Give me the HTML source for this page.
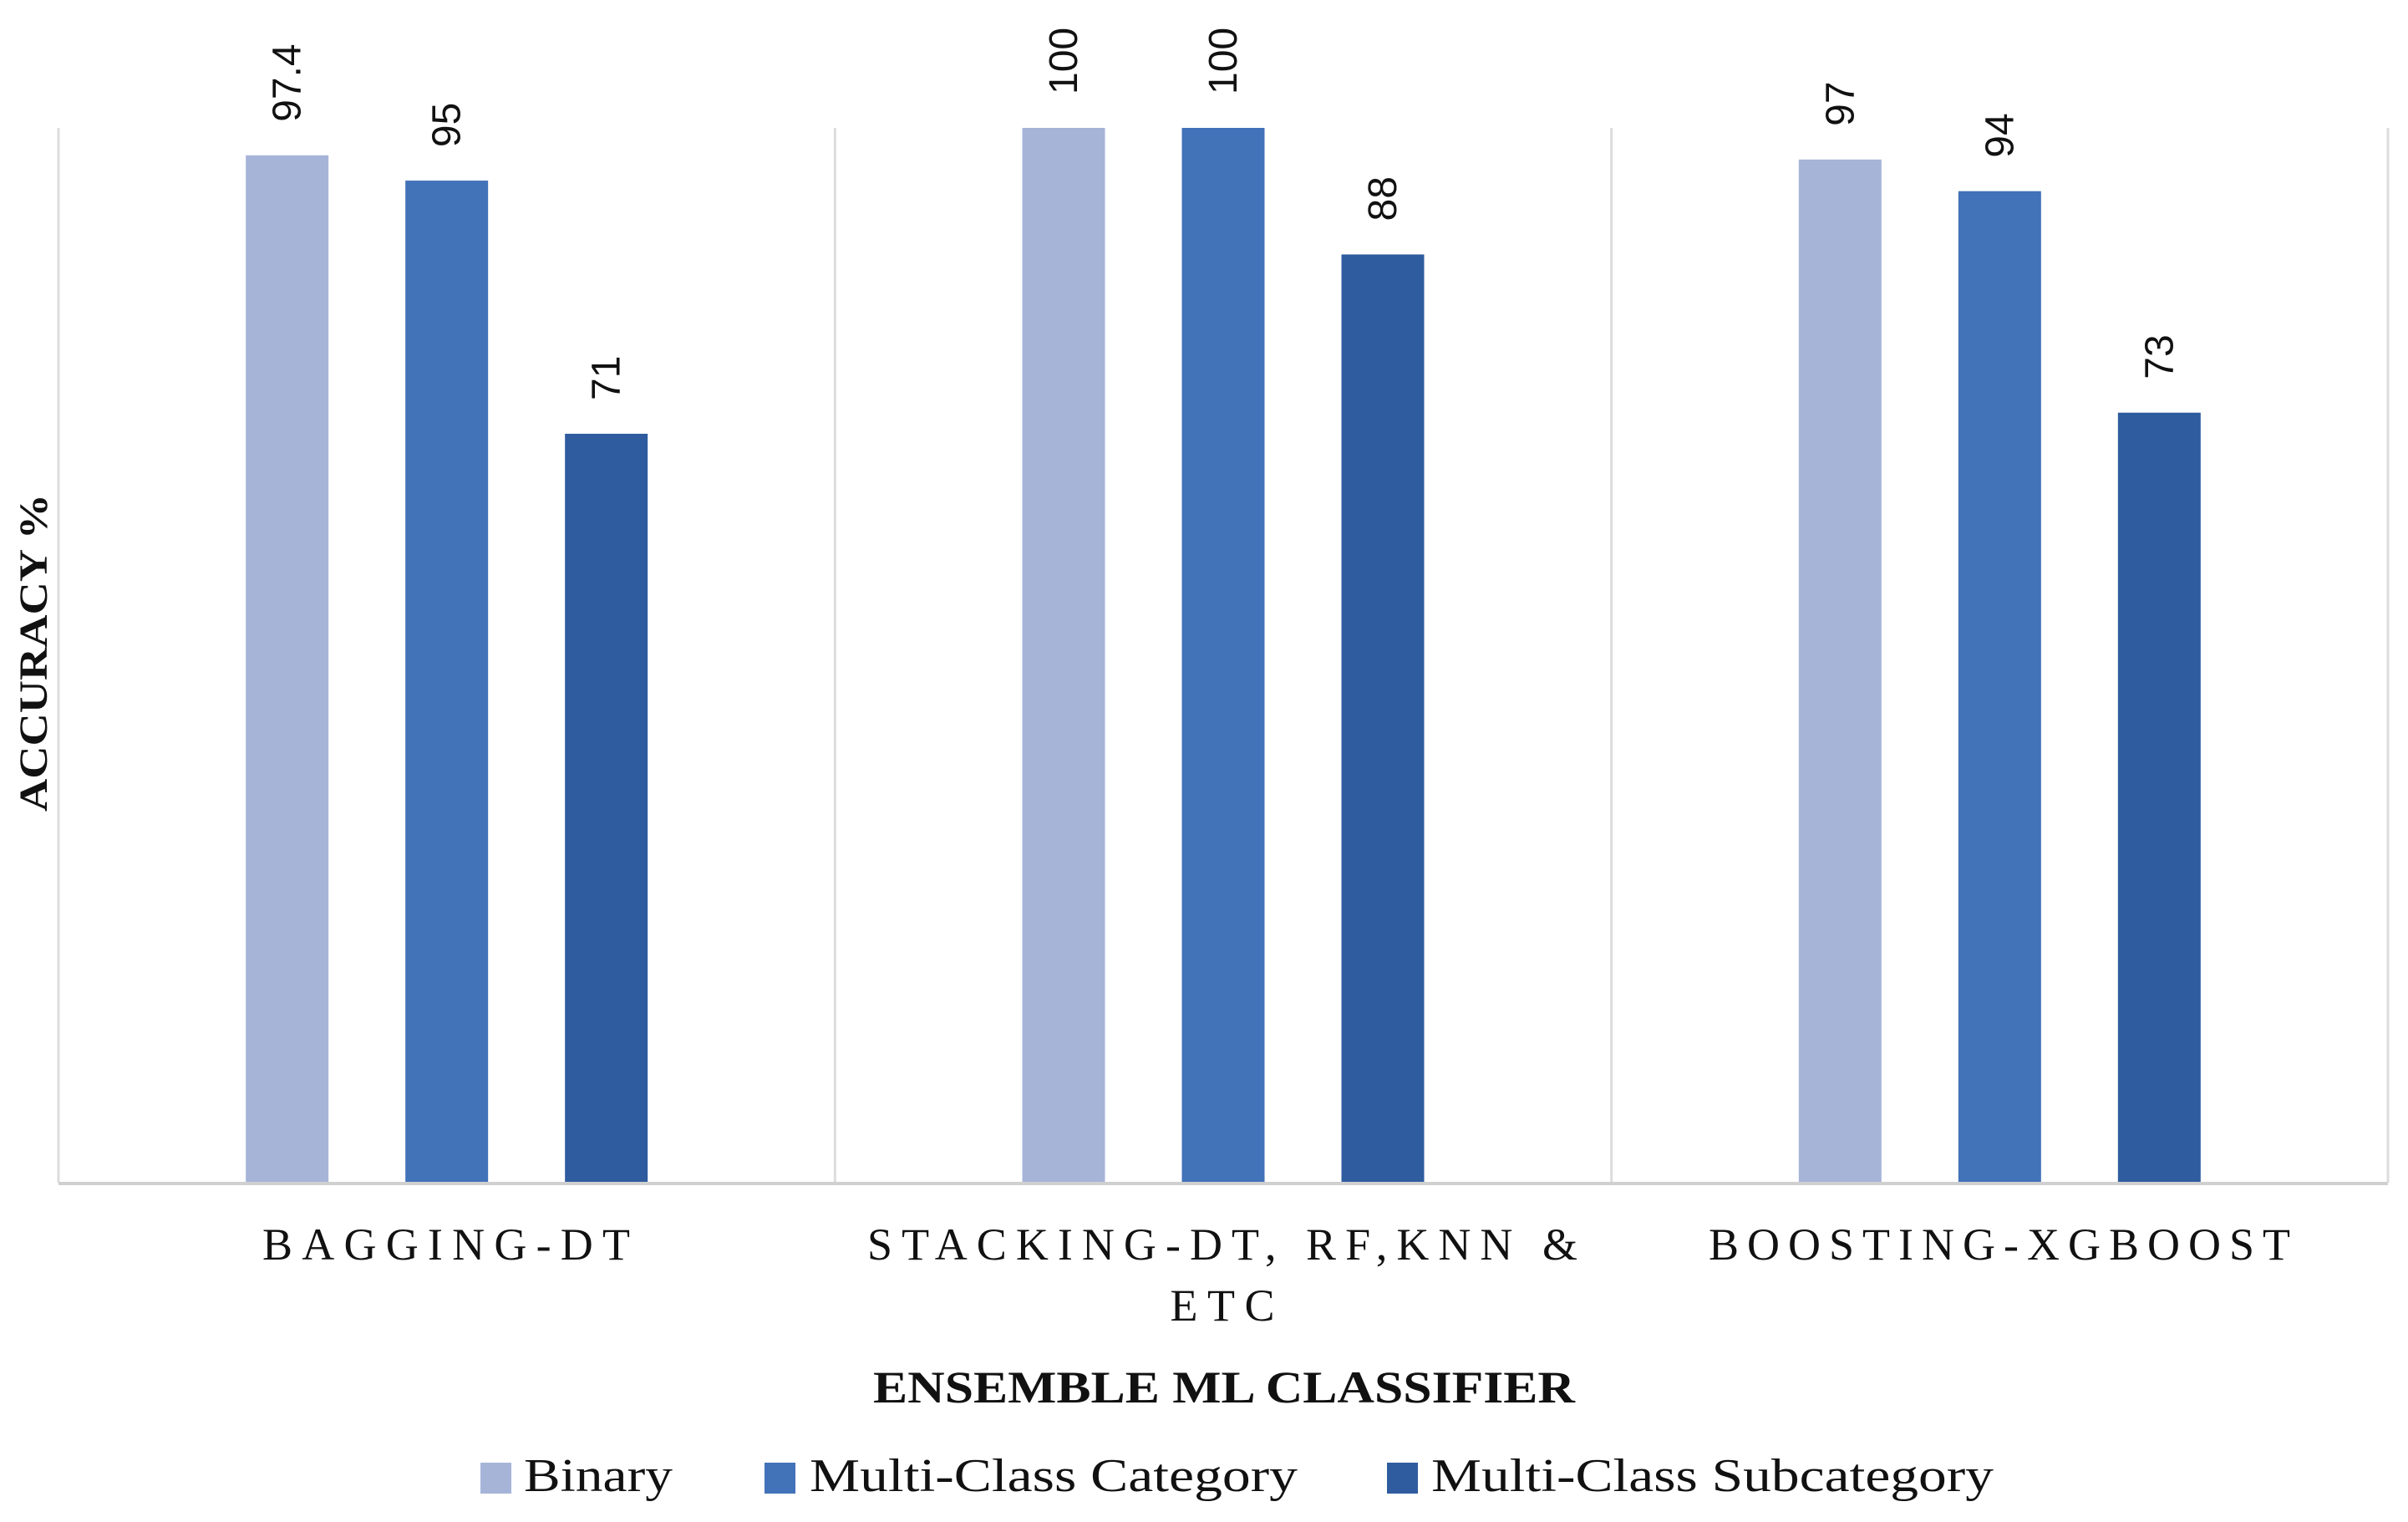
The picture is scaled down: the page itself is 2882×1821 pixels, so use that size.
<!DOCTYPE html>
<html><head><meta charset="utf-8"><style>html,body{margin:0;padding:0;background:#fff;}svg{display:block;}</style></head>
<body>
<svg id="chart" width="2882" height="1821" viewBox="0 0 2882 1821" xmlns="http://www.w3.org/2000/svg">
<rect width="2882" height="1821" fill="#fff"/>
<g id="grid"></g>
<g id="bars"></g>
<g id="labels"></g>
<line x1="70" y1="1416" x2="2858" y2="1416" stroke="#d0d0d0" stroke-width="4"/>
<g font-family="'Liberation Serif', serif" fill="#111">
<text x="534" y="1507" font-size="54" text-anchor="middle" textLength="440" lengthAdjust="spacing">BAGGING-DT</text>
<text x="1463" y="1507" font-size="54" text-anchor="middle" textLength="850" lengthAdjust="spacing">STACKING-DT, RF,KNN &amp;</text>
<text x="1463" y="1580" font-size="54" text-anchor="middle" textLength="125" lengthAdjust="spacing">ETC</text>
<text x="2393" y="1507" font-size="54" text-anchor="middle" textLength="696" lengthAdjust="spacing">BOOSTING-XGBOOST</text>
<text x="1465" y="1678" font-size="54" font-weight="bold" text-anchor="middle" textLength="840" lengthAdjust="spacingAndGlyphs">ENSEMBLE ML CLASSIFIER</text>
<text transform="translate(56,781) rotate(-90)" font-size="48" font-weight="bold" text-anchor="middle" textLength="380" lengthAdjust="spacingAndGlyphs">ACCURACY %</text>
<rect x="575" y="1750" width="37" height="37" fill="#a6b4d8"/>
<text x="627" y="1784" font-size="56" textLength="178" lengthAdjust="spacingAndGlyphs">Binary</text>
<rect x="915" y="1750" width="37" height="37" fill="#4272b8"/>
<text x="969" y="1784" font-size="56" textLength="584" lengthAdjust="spacingAndGlyphs">Multi-Class Category</text>
<rect x="1660" y="1750" width="37" height="37" fill="#2f5c9f"/>
<text x="1713" y="1784" font-size="56" textLength="673" lengthAdjust="spacingAndGlyphs">Multi-Class Subcategory</text>
</g>
</svg>
<script>
const categories = ["BAGGING-DT", "STACKING-DT, RF,KNN & ETC", "BOOSTING-XGBOOST"];
const binary = [97.4, 100, 97];
const multiClassCategory = [95, 100, 94];
const multiClassSubcategory = [71, 88, 73];
const labelsBinary = ["97.4", "100", "97"];
const labelsCategory = ["95", "100", "94"];
const labelsSubcategory = ["71", "88", "73"];

const NS = "http://www.w3.org/2000/svg";
const plotL = 70, plotR = 2858, yTop = 153, yBase = 1415, yMax = 100;
const groupW = (plotR - plotL) / categories.length;
const barW = 99, step = 191;
function y(v) { return yBase - (v / yMax) * (yBase - yTop); }
function xCenter(gi, si) { return plotL + groupW * (gi + 0.5) + (si - 1) * step; }

const grid = document.getElementById('grid');
for (let i = 0; i <= categories.length; i++) {
  const l = document.createElementNS(NS, 'line');
  const gx = plotL + groupW * i;
  l.setAttribute('x1', gx); l.setAttribute('x2', gx);
  l.setAttribute('y1', yTop); l.setAttribute('y2', yBase);
  l.setAttribute('stroke', '#dcdcdc'); l.setAttribute('stroke-width', '3');
  
  
  grid.appendChild(l);
}

const series = [
  {vals: binary, labels: labelsBinary, color: '#a6b4d8', name: 'binary'},
  {vals: multiClassCategory, labels: labelsCategory, color: '#4272b8', name: 'category'},
  {vals: multiClassSubcategory, labels: labelsSubcategory, color: '#2f5c9f', name: 'subcategory'}
];
const bars = document.getElementById('bars');
const labs = document.getElementById('labels');
series.forEach((s, si) => {
  s.vals.forEach((v, gi) => {
    const cx = xCenter(gi, si);
    const r = document.createElementNS(NS, 'rect');
    r.setAttribute('x', cx - barW / 2);
    r.setAttribute('y', y(v));
    r.setAttribute('width', barW);
    r.setAttribute('height', yBase - y(v));
    r.setAttribute('fill', s.color);
    
    
    bars.appendChild(r);
    const t = document.createElementNS(NS, 'text');
    t.setAttribute('transform', 'translate(' + (cx + 16) + ',' + (y(v) - 40) + ') rotate(-90)');
    t.setAttribute('font-family', "'Liberation Sans', sans-serif");
    t.setAttribute('font-size', '48');
    t.setAttribute('fill', '#111');
    t.textContent = s.labels[gi];
    
    
    labs.appendChild(t);
  });
});
</script>
</body></html>
